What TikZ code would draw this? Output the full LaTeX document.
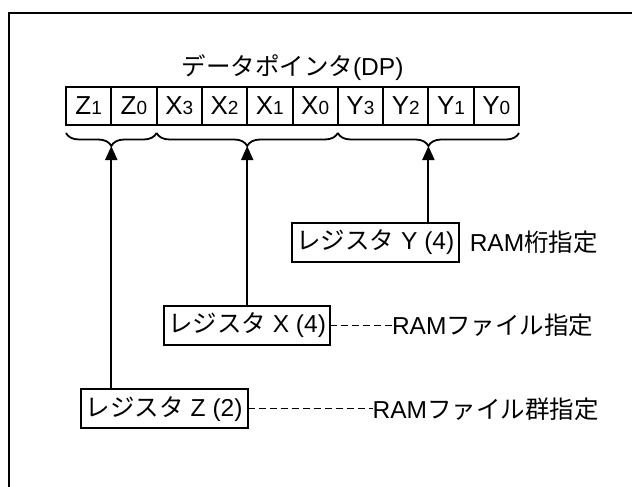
\documentclass[tikz,border=0pt]{standalone}
\usepackage{fontspec}
\setmainfont{Liberation Sans}
\newfontfamily\jp{Noto Sans CJK JP}
\usetikzlibrary{positioning, calc, arrows.meta, decorations.pathreplacing}

\begin{document}
\begin{tikzpicture}[
        x=1pt, y=-1pt,
        font=\fontsize{24.5}{28}\selectfont,
        cell/.style={rectangle, draw, line width=2pt, minimum width=45.3pt, minimum height=38pt, inner sep=0pt, outer sep=0pt, anchor=west, font=\fontsize{26}{28}\selectfont},
        reg/.style={rectangle, draw, line width=2pt, minimum height=39pt, inner sep=0pt, outer sep=0pt},
        note/.style={inner sep=0pt, outer sep=0pt},
        grp/.style={decorate, decoration={brace, mirror, amplitude=13pt}, line width=1.8pt},
        ptr/.style={-{Triangle[length=14pt, width=12pt]}, line width=2pt},
        lead/.style={dash pattern=on 7pt off 4pt, line width=1pt}
    ]
        \useasboundingbox (0,0) rectangle (632,487);
        % Frame
        \draw[line width=2.6pt] (9,500) -- (9,13) -- (645,13);

        % Data pointer bits
        \node (dp) at (292.5,68) {{\jp データポインタ}(DP)};
        \foreach \l/\d [count=\i from 0] in {Z/1,Z/0,X/3,X/2,X/1,X/0,Y/3,Y/2,Y/1,Y/0}
            \node[cell] (c\i) at ({66+45.3*\i},106) {\l{\fontsize{19}{19}\selectfont\d}};

        % Braces
        \draw[grp] ($(c0.south west)+(0,8)$) -- ($(c1.south east)+(0,8)$);
        \draw[grp] ($(c2.south west)+(0,8)$) -- ($(c5.south east)+(0,8)$);
        \draw[grp] ($(c6.south west)+(0,8)$) -- ($(c9.south east)+(0,8)$);
        \coordinate (tz) at ($(c0.south west)!.5!(c1.south east)+(0,21)$);
        \coordinate (tx) at ($(c2.south west)!.5!(c5.south east)+(0,21)$);
        \coordinate (ty) at ($(c6.south west)!.5!(c9.south east)+(0,21)$);

        % Registers
        \node[reg, minimum width=167pt] (regy) at (375.3,242.5) {{\jp レジスタ} Y (4)};
        \node[reg, minimum width=166pt] (regx) at (247,325) {{\jp レジスタ} X (4)};
        \node[reg, minimum width=167pt] (regz) at (164.2,408.8) {{\jp レジスタ} Z (2)};

        \draw[ptr] (regy.north -| ty) -- (ty);
        \draw[ptr] (regx.north -| tx) -- (tx);
        \draw[ptr] (regz.north -| tz) -- (tz);

        % Notes
        \node[note, right=11pt of regy] (ydigit) {RAM{\jp 桁指定}};
        \node[note, right=62pt of regx] (xfile) {RAM{\jp ファイル指定}};
        \node[note, right=125pt of regz] (zgroup) {RAM{\jp ファイル群指定}};
        \draw[lead] (regx.east) -- (xfile.west);
        \draw[lead] (regz.east) -- (zgroup.west);

    \end{tikzpicture}
\end{document}
